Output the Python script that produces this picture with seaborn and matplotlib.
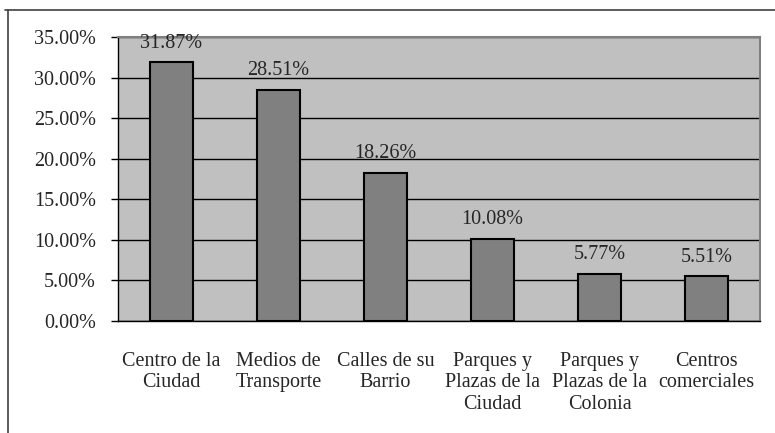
import matplotlib
matplotlib.use("Agg")
import matplotlib.pyplot as plt
import seaborn as sns
import pandas as pd
from matplotlib.lines import Line2D
from matplotlib.ticker import FuncFormatter, MultipleLocator

# --- Datos ---
lugares = ["Centro de la\nCiudad", "Medios de\nTransporte", "Calles de su\nBarrio",
           "Parques y\nPlazas de la\nCiudad", "Parques y\nPlazas de la\nColonia",
           "Centros\ncomerciales"]
porcentajes = [31.87, 28.51, 18.26, 10.08, 5.77, 5.51]

df = pd.DataFrame({"lugar": lugares, "pct": porcentajes})

sns.set_style("white")
plt.rcParams["font.family"] = ["Liberation Serif", "DejaVu Serif"]

fig = plt.figure(figsize=(7.75, 4.33), dpi=100)
ax = fig.add_axes([118 / 775, 1 - 321 / 433, (760 - 118) / 775, (321 - 37) / 433])
ax.set_facecolor("#C0C0C0")

sns.barplot(data=df, x="lugar", y="pct", color="#808080", saturation=1,
            width=0.4, edgecolor="black", linewidth=1.5, ax=ax, zorder=3)

ax.set_ylim(0, 35)
ax.yaxis.set_major_locator(MultipleLocator(5))
ax.yaxis.set_major_formatter(FuncFormatter(lambda v, p: f"{v:.2f}%"))
ax.grid(axis="y", color="black", linewidth=1, zorder=1)
ax.set_axisbelow(True)
ax.set_xlabel("")
ax.set_ylabel("")

# ticks entre categorias
ax.set_xlim(-0.5, len(lugares) - 0.5)
ax.set_xticks([i for i in range(len(lugares))])
ax.set_xticklabels(lugares, fontsize=14.5, linespacing=1.2)
ax.tick_params(axis="x", length=0, pad=22)
ax.set_xticks([i - 0.5 for i in range(len(lugares) + 1)], minor=True)
ax.tick_params(axis="x", which="minor", length=6, width=1, color="black", direction="out")
ax.tick_params(axis="y", length=5, width=1, color="black", direction="out",
               labelsize=14.5, pad=11, left=True)

for s in ["left", "bottom"]:
    ax.spines[s].set_color("black")
    ax.spines[s].set_linewidth(1)
for s in ["top", "right"]:
    ax.spines[s].set_color("#808080")
    ax.spines[s].set_linewidth(1.5)

for i, v in enumerate(porcentajes):
    ax.annotate(f"{v:.2f}%", (i, v), xytext=(0, 7), textcoords="offset points",
                ha="center", va="bottom", fontsize=14.5)

# marco exterior del grafico (recortado)
fig.add_artist(Line2D([5 / 775, 1], [1 - 10 / 433, 1 - 10 / 433],
                      transform=fig.transFigure, color="#404040", linewidth=1.2))
fig.add_artist(Line2D([8 / 775, 8 / 775], [0, 1 - 10 / 433],
                      transform=fig.transFigure, color="#404040", linewidth=1.2))

fig.savefig("out.png", dpi=100)
